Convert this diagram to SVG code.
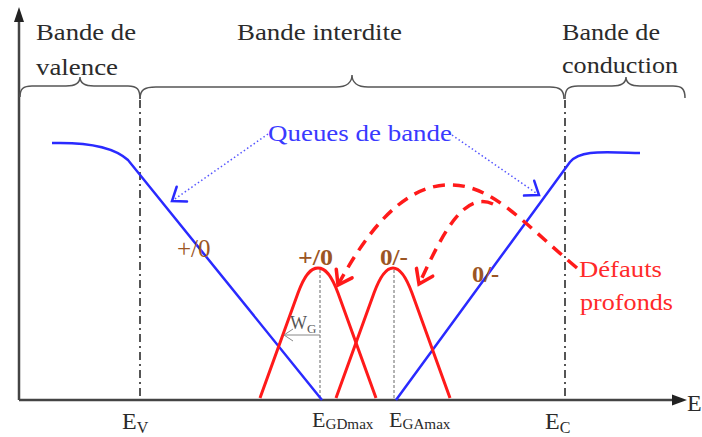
<svg xmlns="http://www.w3.org/2000/svg" width="702" height="437" viewBox="0 0 702 437">
<style>
.t{font-family:'Liberation Serif','Times New Roman',Times,serif;fill:#2b2b2b}
.lbl{font-size:23px}
.blue{fill:#3a3aff}
.red{fill:#ff2a2a}
.brown{fill:#9b5523}
.brace{fill:none;stroke:#555;stroke-width:1.5}
.vdd{stroke:#555;stroke-width:2;stroke-dasharray:8,4,2,4}
.vthin{stroke:#666;stroke-width:1;stroke-dasharray:3,2}
.band{fill:none;stroke:#2a2aff;stroke-width:2.5}
.gauss{fill:none;stroke:#ff1a1a;stroke-width:3}
.dash{fill:none;stroke:#ff1a1a;stroke-width:3.5;stroke-dasharray:12,8}
.dot{fill:none;stroke:#5555ff;stroke-width:1.5;stroke-dasharray:1.5,2.5}
.axis{stroke:#444;stroke-width:2.5}
</style>
<defs>
<marker id="redOpen" markerUnits="userSpaceOnUse" markerWidth="24" markerHeight="24" refX="16" refY="11" orient="auto" overflow="visible">
<path d="M3,2 L16,11 L3,20" fill="none" stroke="#ff1a1a" stroke-width="3.5" stroke-linecap="round"/>
</marker>
<marker id="blueOpen" markerUnits="userSpaceOnUse" markerWidth="24" markerHeight="24" refX="16" refY="11" orient="auto" overflow="visible">
<path d="M4,2 L16,11 L4,20" fill="none" stroke="#2a2aff" stroke-width="2.5" stroke-linecap="round"/>
</marker>
<marker id="grayOpen" markerUnits="userSpaceOnUse" markerWidth="14" markerHeight="14" refX="10" refY="7" orient="auto" overflow="visible">
<path d="M1,1 L10,7 L1,13" fill="none" stroke="#888" stroke-width="1"/>
</marker>
</defs>

<g font-family="Liberation Serif, serif">
<g id="axes">
<line class="axis" x1="19" y1="400" x2="19" y2="20"/>
<polygon points="19,7 14,22 24,22" fill="#222"/>
<line class="axis" x1="19" y1="400" x2="674" y2="400"/>
<polygon points="687,400 672,394.5 672,405.5" fill="#222"/>
<text class="t" x="687" y="411" font-size="24">E</text>
</g>

<g id="braces">
<path class="brace" d="M20,97 C20,89 23,86 32,86 L66,86 C76,86 80,83 80,77 C80,83 84,86 94,86 L128,86 C137,86 140,89 140,99"/>
<path class="brace" d="M140,99 C140,90 144,87 156,87 L336,87 C347,87 352,82 352,75 C352,82 357,87 368,87 L550,87 C560,87 564,90 564,99"/>
<path class="brace" d="M565,99 C565,89 568,86 578,86 L612,86 C622,86 626,83 626,77 C626,83 630,86 640,86 L673,86 C682,86 685,89 685,98"/>
</g>

<g id="band-labels">
<text class="t lbl" x="36" y="40" textLength="100" lengthAdjust="spacingAndGlyphs">Bande de</text>
<text class="t lbl" x="36" y="75" textLength="82" lengthAdjust="spacingAndGlyphs">valence</text>
<text class="t lbl" x="237" y="40" textLength="165" lengthAdjust="spacingAndGlyphs">Bande interdite</text>
<text class="t lbl" x="562" y="40" textLength="98" lengthAdjust="spacingAndGlyphs">Bande de</text>
<text class="t lbl" x="562" y="73" textLength="116" lengthAdjust="spacingAndGlyphs">conduction</text>
</g>

<g id="levels">
<line class="vdd" x1="140" y1="100" x2="140" y2="400"/>
<line class="vdd" x1="565" y1="100" x2="565" y2="400"/>
<line class="vthin" x1="320" y1="270" x2="320" y2="400"/>
<line class="vthin" x1="394" y1="270" x2="394" y2="400"/>
<text class="t" x="122" y="429" font-size="24">E<tspan font-size="16" dy="4">V</tspan></text>
<text class="t" x="312" y="427" font-size="22">E<tspan font-size="14" dy="2" textLength="48" lengthAdjust="spacingAndGlyphs">GDmax</tspan></text>
<text class="t" x="389" y="427" font-size="22">E<tspan font-size="14" dy="2" textLength="48" lengthAdjust="spacingAndGlyphs">GAmax</tspan></text>
<text class="t" x="545" y="429" font-size="24">E<tspan font-size="16" dy="4">C</tspan></text>
</g>

<g id="band-tails">
<path class="band" d="M52,143 C90,142 115,148 128,160 L322,400"/>
<path class="band" d="M396,400 L570,162 C580,150 600,152 640,153"/>
</g>

<g id="gaussians">
<path class="gauss" d="M260,398 L298,293 C305,274 311,268 318,268 C325,268 331,274 338,293 L376,398"/>
<path class="gauss" d="M336,398 L374,293 C381,274 387,268 393,268 C399,268 405,274 412,293 L450,398"/>
</g>

<g id="wg">
<line x1="320" y1="335" x2="284" y2="335" stroke="#888" stroke-width="1" marker-end="url(#grayOpen)"/>
<text class="t" x="290" y="329" font-size="18" style="fill:#555">W<tspan font-size="13" dy="4">G</tspan></text>
</g>

<g id="charge-labels">
<text class="t brown" x="177" y="257" font-size="25">+/0</text>
<text class="t brown" x="298" y="265" font-size="23" font-weight="bold" textLength="35" lengthAdjust="spacingAndGlyphs">+/0</text>
<text class="t brown" x="380" y="265" font-size="23" font-weight="bold" textLength="28" lengthAdjust="spacingAndGlyphs">0/-</text>
<text class="t brown" x="472" y="282" font-size="23" font-weight="bold" textLength="27" lengthAdjust="spacingAndGlyphs">0/-</text>
</g>

<g id="queues-label">
<text class="t lbl blue" x="268" y="141" textLength="184" lengthAdjust="spacingAndGlyphs">Queues de bande</text>
</g>

<g id="defauts-label">
<text class="t lbl red" x="579" y="277" textLength="83" lengthAdjust="spacingAndGlyphs">Défauts</text>
<text class="t lbl red" x="580" y="310" textLength="93" lengthAdjust="spacingAndGlyphs">profonds</text>
</g>
</g>

<g id="connectors">
<path class="dot" d="M268,134 L172,201" marker-end="url(#blueOpen)"/>
<path class="dot" d="M452,135 L539,195" marker-end="url(#blueOpen)"/>
<path class="dash" d="M577,268 C520,220 490,182 445,185 C400,188 365,235 338,285" marker-end="url(#redOpen)"/>
<path class="dash" d="M493,204 C462,190 440,240 419,284" marker-end="url(#redOpen)"/>
</g>
</svg>
